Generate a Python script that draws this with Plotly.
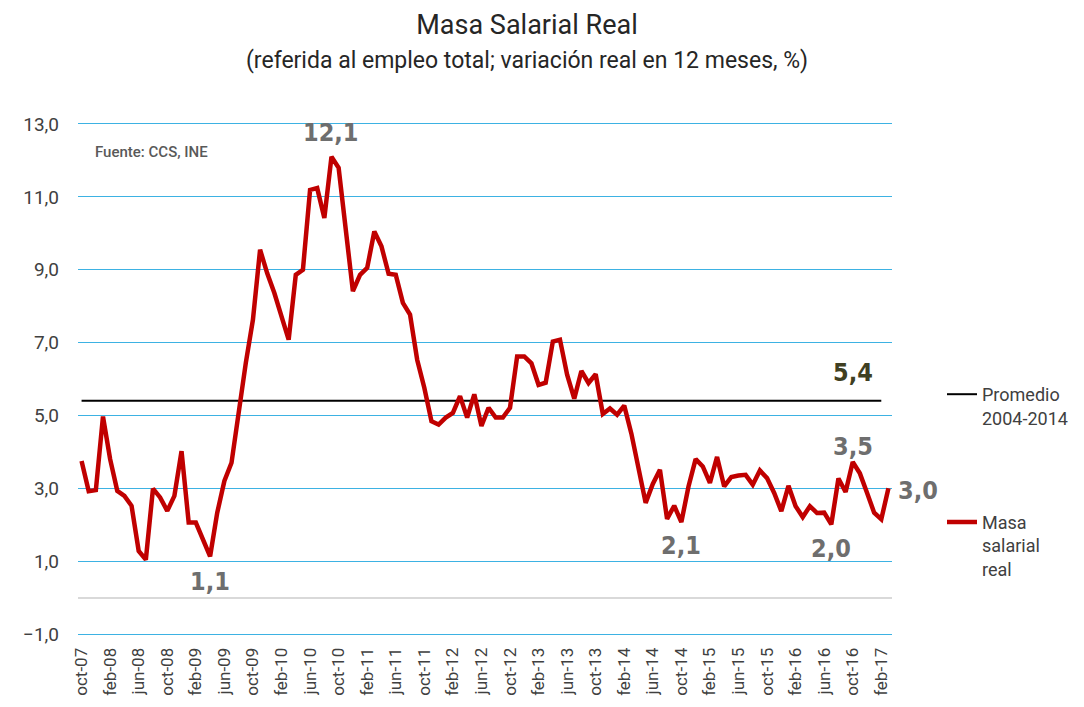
import plotly.graph_objects as go

# ---- data ----
months = ["jan", "feb", "mar", "apr", "may", "jun", "jul", "aug", "sep", "oct", "nov", "dec"]
categories = []
for yr in range(2007, 2018):
    for i, mname in enumerate(months):
        if (yr == 2007 and i < 9) or (yr == 2017 and i > 2):
            continue
        categories.append(f"{mname}-{str(yr)[2:]}")
# oct-07 ... mar-17 (114 months)

masa_salarial = [
    3.75, 2.92, 2.95,                                                   # oct-dec 07
    4.97, 3.80, 2.93, 2.79, 2.52, 1.28, 1.04, 2.99, 2.75, 2.38, 2.79, 4.02,   # 2008
    2.06, 2.06, 1.60, 1.13, 2.33, 3.20, 3.70, 5.16, 6.44, 7.63, 9.55, 8.90,   # 2009
    8.36, 7.72, 7.08, 8.86, 9.00, 11.19, 11.24, 10.42, 12.10, 11.80, 10.10, 8.41,  # 2010
    8.86, 9.05, 10.05, 9.64, 8.89, 8.86, 8.09, 7.77, 6.53, 5.76, 4.84, 4.75,  # 2011
    4.94, 5.07, 5.53, 4.94, 5.58, 4.71, 5.21, 4.94, 4.94, 5.21, 6.62, 6.62,   # 2012
    6.43, 5.84, 5.90, 7.03, 7.08, 6.12, 5.46, 6.22, 5.89, 6.13, 5.04, 5.19,   # 2013
    5.02, 5.27, 4.50, 3.60, 2.60, 3.12, 3.51, 2.16, 2.52, 2.07, 3.05, 3.80,   # 2014
    3.60, 3.15, 3.86, 3.05, 3.31, 3.35, 3.37, 3.10, 3.49, 3.28, 2.87, 2.37,   # 2015
    3.07, 2.51, 2.21, 2.51, 2.32, 2.33, 2.01, 3.27, 2.90, 3.72, 3.41, 2.88,   # 2016
    2.33, 2.15, 3.00,                                                   # jan-mar 17
]
promedio_value = 5.4
promedio = [promedio_value] * 113          # oct-07 ... feb-17

tick_labels = categories[::4]
y_ticks = [-1, 1, 3, 5, 7, 9, 11, 13]

# point labels: (category, value, text, position)
point_labels = [
    ("sep-10", 12.1, "12,1", "above"),
    ("apr-09", 1.1, "1,1", "below"),
    ("oct-14", 2.1, "2,1", "below"),
    ("jul-16", 2.0, "2,0", "below"),
    ("oct-16", 3.5, "3,5", "above"),
]

RED = "#C00000"
GRID = "#3DB2E3"
TXT = "#404040"
LBL = "#6E6E6E"
BASE_FONT = "Roboto, 'Noto Sans', sans-serif"
NUM_FONT = "'DejaVu Sans Condensed', 'Liberation Sans Narrow', Roboto, sans-serif"

# the page places the figure 8 px from the top-left corner
OFF = 8
W, H = 1084 - OFF, 707 - OFF
PL, PR, PT, PB = 78 - OFF, 892 - OFF, 124 - OFF, 634 - OFF   # plot area in figure px
PW, PH = PR - PL, PB - PT


def px(xp):
    return (xp - OFF - PL) / PW


def py(yp):
    return (PB - (yp - OFF)) / PH


fig = go.Figure()
fig.add_trace(go.Scatter(
    x=categories[:len(promedio)], y=promedio, mode="lines",
    name="Promedio<br>2004-2014", legendgroup="a",
    line=dict(color="#000000", width=2),
    hoverinfo="skip",
))
fig.add_trace(go.Scatter(
    x=categories, y=masa_salarial, mode="lines",
    name="Masa<br>salarial<br>real", legendgroup="b",
    line=dict(color=RED, width=4.5, shape="linear"),
))

num_font = dict(family=NUM_FONT, size=25, color=LBL, weight="bold")
annotations = []
for cat, val, txt, pos in point_labels:
    annotations.append(dict(
        x=cat, y=val, xref="x", yref="y", text=txt, showarrow=False,
        yshift=24 if pos == "above" else -24,
        font=num_font,
    ))
# last value label to the right
annotations.append(dict(
    x=categories[-1], y=masa_salarial[-1], xref="x", yref="y", text="3,0",
    showarrow=False, xanchor="left", xshift=8, yshift=-2,
    font=num_font,
))
# average value label
annotations.append(dict(
    x="oct-16", y=promedio_value, xref="x", yref="y", text="5,4",
    showarrow=False, yshift=28,
    font=dict(family=NUM_FONT, size=25, color="#3F3F22", weight="bold"),
))
# source
annotations.append(dict(
    x=px(93), y=py(152), xref="paper", yref="paper",
    xanchor="left", yanchor="middle",
    text="Fuente: CCS, INE", showarrow=False,
    font=dict(family=BASE_FONT, size=15, color="#595959", weight=500),
))
# subtitle
annotations.append(dict(
    x=px(527), y=py(60), xref="paper", yref="paper",
    text="(referida al empleo total; variación real en 12 meses, %)", showarrow=False,
    xanchor="center", yanchor="middle",
    font=dict(family=BASE_FONT, size=23, color="#262626"),
))

fig.update_layout(
    width=W, height=H,
    margin=dict(l=PL, r=W - PR, t=PT, b=H - PB, autoexpand=False),
    paper_bgcolor="white", plot_bgcolor="white",
    separators=",.",
    font=dict(family=BASE_FONT, color=TXT),
    title=dict(
        text="Masa Salarial Real", x=(527 - OFF) / W, xanchor="center",
        y=1 - (25 - OFF) / H, yanchor="middle", yref="container", xref="container",
        font=dict(family=BASE_FONT, size=27, color="#262626"),
    ),
    showlegend=True,
    legend=dict(
        x=px(942), xanchor="left", y=py(376), yanchor="top",
        font=dict(family=BASE_FONT, size=18, color=TXT),
        valign="top", tracegroupgap=78, itemwidth=30,
        bgcolor="rgba(0,0,0,0)",
    ),
    annotations=annotations,
    xaxis=dict(
        type="category", categoryorder="array", categoryarray=categories,
        range=[-0.5, len(categories) - 0.5],
        tickmode="array", tickvals=tick_labels, ticktext=tick_labels,
        tickangle=-90, tickfont=dict(size=17, color=TXT),
        showgrid=False, showline=True, linecolor=GRID, linewidth=1, mirror=True,
        zeroline=False, ticks="",
        ticklabelstandoff=6,
    ),
    yaxis=dict(
        range=[-1, 13], tickvals=y_ticks, tickformat=".1f",
        tickfont=dict(size=19, color=TXT),
        showgrid=True, gridcolor=GRID, gridwidth=1,
        zeroline=True, zerolinecolor="#D9D9D9", zerolinewidth=1.5,
        showline=False, ticks="", ticklabelstandoff=18,
    ),
)

fig.write_html("out.html")
